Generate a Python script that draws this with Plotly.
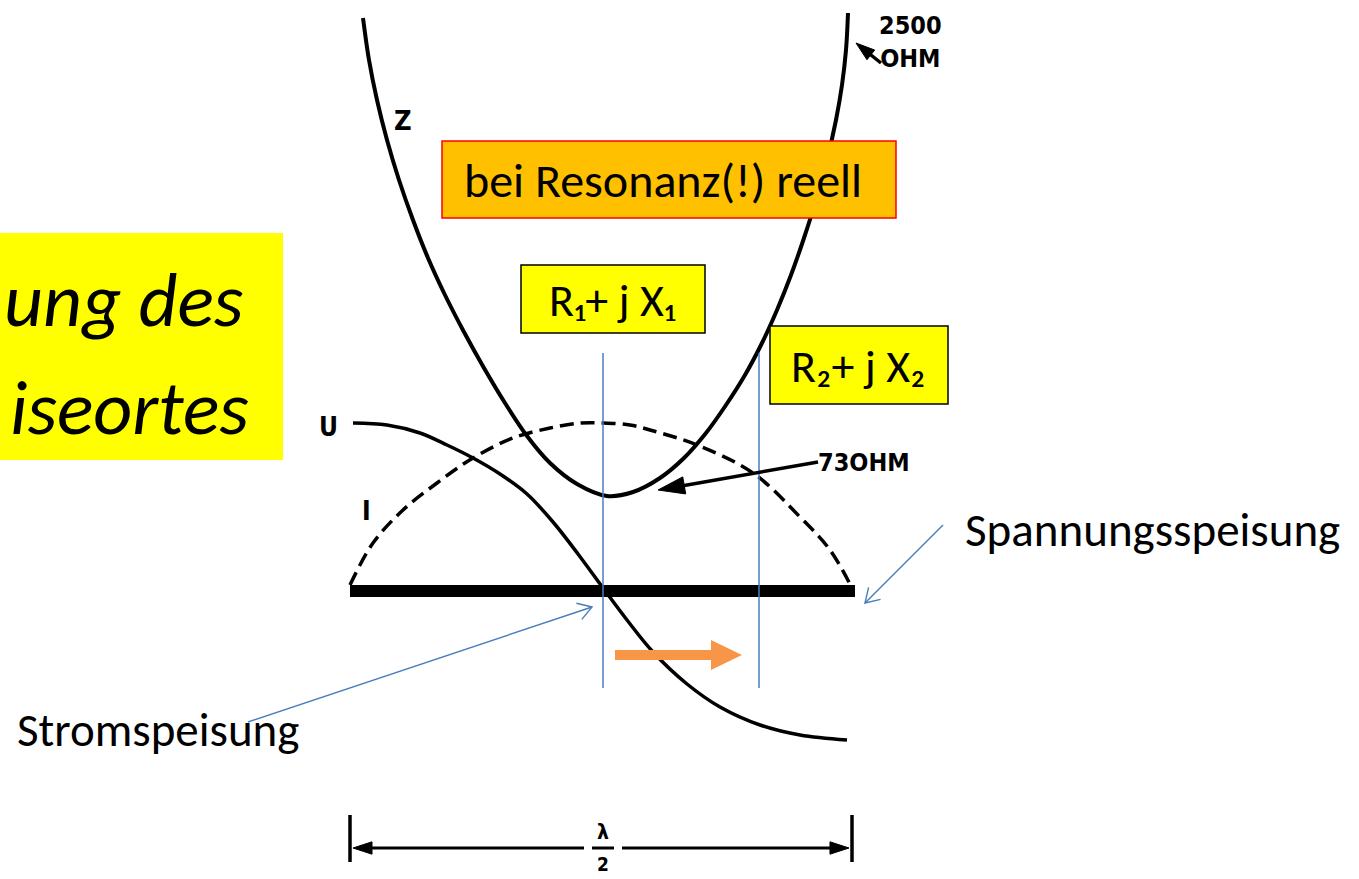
import math
import plotly.graph_objects as go

# ---- curve data (pixel space, y downwards) ----
z_x = [363, 369, 377, 387, 399, 413, 428, 445, 464, 484, 505, 527, 550, 577, 607, 633, 660, 684, 706, 726, 745, 762, 777, 791, 804, 816, 827, 836, 842, 846, 848]
z_y = [18, 60, 100, 140, 180, 220, 258, 295, 332, 368, 403, 436, 463, 484, 496, 492, 478, 458, 433, 405, 375, 343, 310, 275, 238, 200, 160, 120, 85, 50, 13]

u_x = [353, 387, 420, 447, 473, 500, 527, 553, 578, 603, 627, 653, 687, 720, 760, 800, 847]
u_y = [423, 425, 433, 445, 458, 474, 494, 522, 554, 588, 620, 652, 684, 707, 725, 735, 740]

i_x = [350, 373, 403, 437, 473, 513, 550, 580, 603, 630, 650, 697, 753, 800, 830, 852]
i_y = [585, 543, 510, 483, 458, 438, 428, 423, 423, 425, 430, 445, 473, 517, 550, 588]

antenna_x = [350, 855]
antenna_y = [591, 591]

feed_x = [603, 759]          # the two feed-point marker lines
feed_top, feed_bottom = 353, 688

labels_curve = ["Z", "U", "I"]
labels_ohm = ["2500<br>OHM", "73OHM"]
box_texts = ["bei Resonanz(!) reell", "R₁+ j X₁", "R₂+ j X₂"]
side_texts = ["Spannungsspeisung", "Stromspeisung"]
title_lines = ["ung des", "iseortes"]

SANS = "Calibri, Carlito, Lato, sans-serif"
HAND = "Liberation Sans Narrow, DejaVu Sans Condensed, sans-serif"
BLUE = "#4A7EBB"

fig = go.Figure()

fig.add_trace(go.Scatter(x=z_x, y=z_y, mode="lines", line=dict(color="black", width=4, shape="spline", smoothing=1.0), hoverinfo="skip"))
fig.add_trace(go.Scatter(x=u_x, y=u_y, mode="lines", line=dict(color="black", width=3.5, shape="spline", smoothing=1.0), hoverinfo="skip"))
fig.add_trace(go.Scatter(x=i_x, y=i_y, mode="lines", line=dict(color="black", width=3.5, shape="spline", dash="14px,7px"), hoverinfo="skip"))
fig.add_trace(go.Scatter(x=antenna_x, y=antenna_y, mode="lines", line=dict(color="black", width=12), hoverinfo="skip"))
for fx in feed_x:
    fig.add_trace(go.Scatter(x=[fx, fx], y=[feed_top, feed_bottom], mode="lines", line=dict(color=BLUE, width=1.5), hoverinfo="skip"))


def filled_arrow(x0, y0, x1, y1, color, width, size):
    fig.add_trace(go.Scatter(x=[x0, x1], y=[y0, y1], mode="lines+markers",
                             line=dict(color=color, width=width),
                             marker=dict(symbol="arrow", size=[0, size], angleref="previous", color=color,
                                         opacity=1, line=dict(width=1, color=color)),
                             hoverinfo="skip"))


def open_arrow(x0, y0, x1, y1, color, width, length=16, half_angle=32):
    ang = math.atan2(y0 - y1, x0 - x1)
    a = math.radians(half_angle)
    wx = [x1 + length * math.cos(ang + a), x1, x1 + length * math.cos(ang - a)]
    wy = [y1 + length * math.sin(ang + a), y1, y1 + length * math.sin(ang - a)]
    fig.add_trace(go.Scatter(x=[x0, x1], y=[y0, y1], mode="lines", line=dict(color=color, width=width), hoverinfo="skip"))
    fig.add_trace(go.Scatter(x=wx, y=wy, mode="lines", line=dict(color=color, width=width), hoverinfo="skip"))


# pointer arrows
filled_arrow(881, 63, 856, 43, "black", 3.5, 20)
filled_arrow(818, 462, 658, 490, "black", 3.5, 28)
open_arrow(943, 525, 865, 603, BLUE, 1.4)
open_arrow(248, 722, 592, 607, BLUE, 1.4)
# lambda/2 dimension arrows
filled_arrow(584, 848, 353, 848, "black", 3, 20)
filled_arrow(622, 848, 849, 848, "black", 3, 20)

shapes = []
# left yellow title box
shapes.append(dict(type="rect", x0=-5, x1=283, y0=233, y1=460, fillcolor="#FFFF00", line=dict(width=0), layer="below"))
# orange box
shapes.append(dict(type="rect", x0=442, x1=896, y0=141, y1=218, fillcolor="#FFC000", line=dict(color="#FF0000", width=1.5)))
# R1 / R2 boxes
shapes.append(dict(type="rect", x0=521, x1=705, y0=265, y1=333, fillcolor="#FFFF00", line=dict(color="black", width=1.5)))
shapes.append(dict(type="rect", x0=770, x1=948, y0=326, y1=404, fillcolor="#FFFF00", line=dict(color="black", width=1.5)))
# orange shift arrow
shapes.append(dict(type="path", path="M615,650 L711,650 L711,640 L742,655 L711,670 L711,660 L615,660 Z",
                   fillcolor="#F79646", line=dict(width=0)))
# lambda/2 dimension ticks and fraction bar
shapes.append(dict(type="line", x0=350, x1=350, y0=815, y1=862, line=dict(color="black", width=3.5)))
shapes.append(dict(type="line", x0=852, x1=852, y0=815, y1=862, line=dict(color="black", width=3.5)))
shapes.append(dict(type="line", x0=592, x1=614, y0=848, y1=848, line=dict(color="black", width=3)))
fig.update_layout(shapes=shapes)

ann = []


def txt(x, y, s, size, family=SANS, color="black", xanchor="center", yanchor="middle", italic=False, bold=False):
    ann.append(dict(x=x, y=y, text=s, showarrow=False, xanchor=xanchor, yanchor=yanchor,
                    font=dict(family=family, size=size, color=color,
                              weight="bold" if bold else "normal",
                              style="italic" if italic else "normal")))


# title box text
txt(2, 300, title_lines[0], 76, italic=True, xanchor="left")
txt(251, 408, title_lines[1], 76, italic=True, xanchor="right")
# box texts
txt(462, 180, box_texts[0], 48, xanchor="left")
txt(612, 300, box_texts[1], 46)
txt(858, 366, box_texts[2], 46)
# side texts
txt(963, 530, side_texts[0], 47, xanchor="left")
txt(15, 730, side_texts[1], 47, xanchor="left")
# hand-drawn labels
txt(403, 120, labels_curve[0], 27, family=HAND, bold=True)
txt(328, 427, labels_curve[1], 26, family=HAND, bold=True)
txt(366, 511, labels_curve[2], 26, family=HAND, bold=True)
txt(910, 42, labels_ohm[0], 25, family=HAND, bold=True)
txt(864, 462, labels_ohm[1], 25, family=HAND, bold=True)
txt(603, 832, "λ", 21, family=HAND, bold=True)
txt(603, 864, "2", 19, family=HAND, bold=True)
fig.update_layout(annotations=ann)

fig.update_layout(
    width=1359, height=879,
    margin=dict(l=0, r=0, t=0, b=0),
    paper_bgcolor="white", plot_bgcolor="white",
    showlegend=False,
    xaxis=dict(range=[0, 1359], visible=False, fixedrange=True),
    yaxis=dict(range=[879, 0], visible=False, fixedrange=True),
)

fig.write_html("out.html", config={"displayModeBar": False},
               post_script="document.body.style.margin='0';document.body.style.overflow='hidden';")
